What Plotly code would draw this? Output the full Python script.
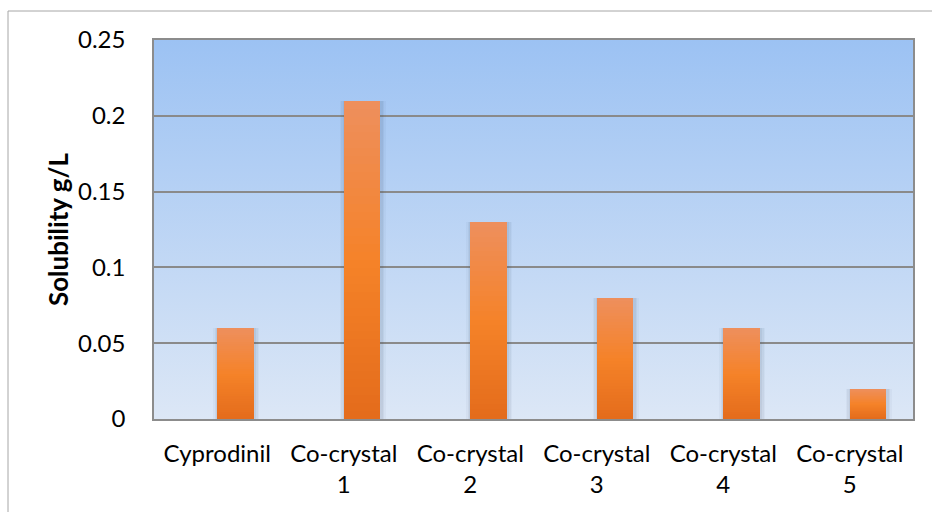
import base64
import plotly.graph_objects as go

# Solubility of cyprodinil and its co-crystals
categories = ["Cyprodinil", "Co-crystal<br>1", "Co-crystal<br>2",
              "Co-crystal<br>3", "Co-crystal<br>4", "Co-crystal<br>5"]
solubility = [0.06, 0.21, 0.13, 0.08, 0.06, 0.02]
y_ticks = [0, 0.05, 0.1, 0.15, 0.2, 0.25]
y_tick_labels = ["0", "0.05", "0.1", "0.15", "0.2", "0.25"]

FONT = "Lato"
BAR_W = 0.29

# vertical colour ramp for the bars (position 0 = base, 1 = top)
ramp = [(0.0, (227, 107, 27)), (0.5, (245, 130, 40)), (1.0, (238, 143, 92))]


def ramp_color(t):
    for (t0, c0), (t1, c1) in zip(ramp[:-1], ramp[1:]):
        if t0 <= t <= t1:
            f = (t - t0) / (t1 - t0)
            c = [round(a + (b - a) * f) for a, b in zip(c0, c1)]
            return "rgb({},{},{})".format(*c)
    return "rgb({},{},{})".format(*ramp[-1][1])


fig = go.Figure()

# soft halo behind each bar
for alpha, grow in [(0.035, 0.075), (0.05, 0.05), (0.06, 0.025)]:
    fig.add_trace(go.Bar(
        x=categories, y=solubility,
        width=BAR_W + grow, offset=-grow / 2 + 0.006,
        marker=dict(color=f"rgba(40,50,80,{alpha})", line=dict(width=0)),
        hoverinfo="skip", showlegend=False,
    ))

# gradient bars built from stacked, shrinking layers
N = 40
for i in range(N):
    t = 1 - i / N
    fig.add_trace(go.Bar(
        x=categories, y=[v * t for v in solubility],
        width=BAR_W, offset=0,
        marker=dict(color=ramp_color(t), line=dict(width=0)),
        hoverinfo="skip" if i else None, showlegend=False,
        name="Solubility",
    ))

# blue gradient behind the plotting area
svg = ('<svg xmlns="http://www.w3.org/2000/svg" width="10" height="100" '
       'preserveAspectRatio="none"><defs><linearGradient id="g" x1="0" y1="0" '
       'x2="0" y2="1"><stop offset="0" stop-color="#9CC2F3"/>'
       '<stop offset="1" stop-color="#DCE7F6"/></linearGradient></defs>'
       '<rect width="10" height="100" fill="url(#g)"/></svg>')
src = "data:image/svg+xml;base64," + base64.b64encode(svg.encode()).decode()

fig.update_layout(
    width=932, height=512,
    margin=dict(l=154, r=19, t=40, b=93),
    paper_bgcolor="white",
    plot_bgcolor="rgba(0,0,0,0)",
    barmode="overlay",
    bargap=0,
    showlegend=False,
    font=dict(family=FONT, size=24, color="black"),
    images=[dict(source=src, xref="paper", yref="paper", x=0, y=1,
                 sizex=1, sizey=1, sizing="stretch", layer="below",
                 xanchor="left", yanchor="top")],
    shapes=[dict(type="rect", xref="paper", yref="paper",
                 x0=-146 / 759, x1=1.2, y0=-0.5, y1=1 + 29 / 379,
                 line=dict(color="#A6A6A6", width=1), fillcolor="rgba(0,0,0,0)",
                 layer="below")],
)

fig.update_xaxes(
    type="category",
    showgrid=False, ticks="",
    showline=True, linecolor="#8C8C8C", linewidth=1.5, mirror=True,
    tickfont=dict(family=FONT, size=24),
    ticklabelstandoff=12,
)
fig.update_yaxes(
    range=[0, 0.25], tickvals=y_ticks, ticktext=y_tick_labels,
    showgrid=True, gridcolor="#8A8A8A", gridwidth=1.5,
    zeroline=False, ticks="",
    showline=True, linecolor="#8C8C8C", linewidth=1.5, mirror=True,
    tickfont=dict(family=FONT, size=24),
    ticklabelstandoff=22,
    title=dict(text="<b>Solubility g/L</b>", font=dict(family=FONT, size=26),
               standoff=2),
)

fig.write_html("out.html")
